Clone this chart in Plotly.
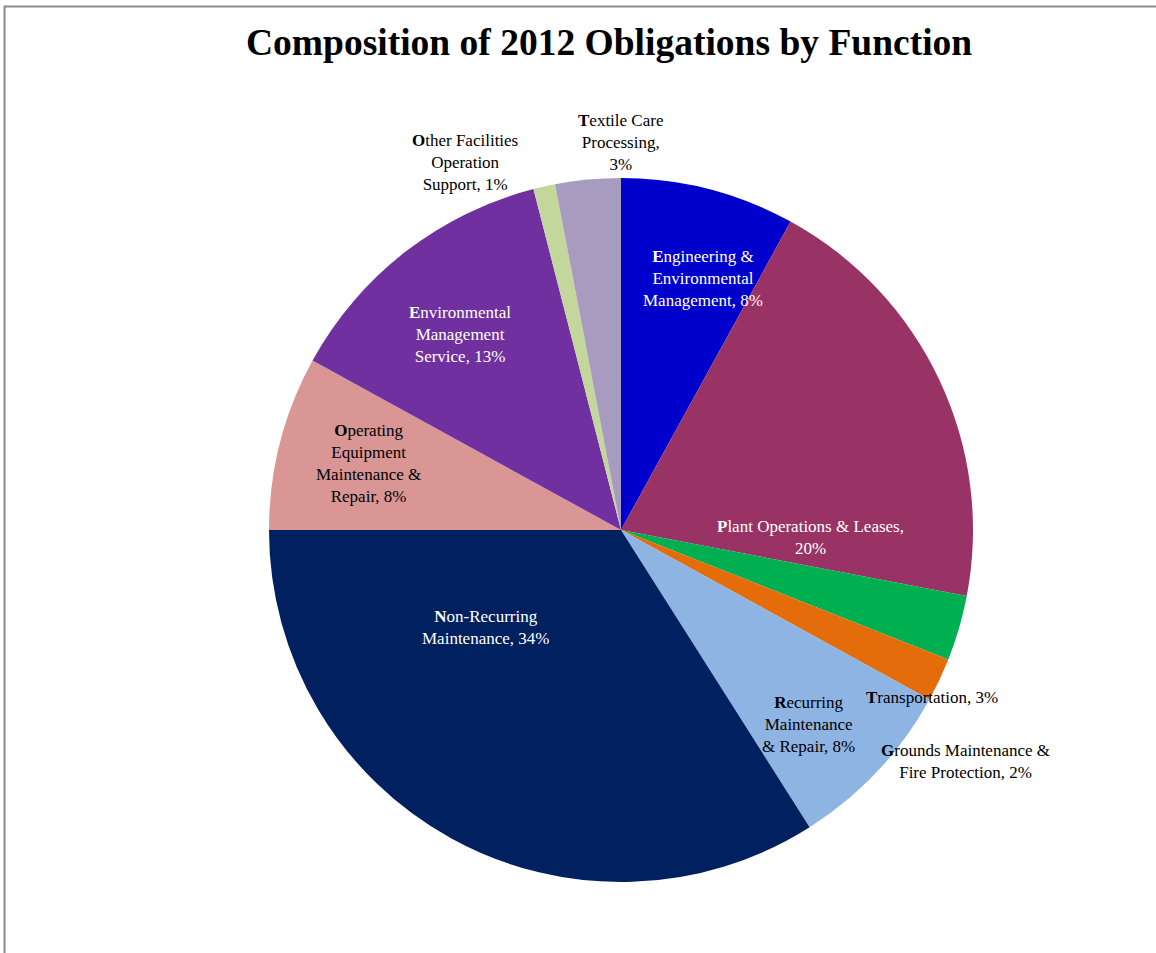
import plotly.graph_objects as go

# Obligations by function, share of total (%)
functions = [
    "Engineering & Environmental Management",
    "Plant Operations & Leases",
    "Transportation",
    "Grounds Maintenance & Fire Protection",
    "Recurring Maintenance & Repair",
    "Non-Recurring Maintenance",
    "Operating Equipment Maintenance & Repair",
    "Environmental Management Service",
    "Other Facilities Operation Support",
    "Textile Care Processing",
]
shares = [8, 20, 3, 2, 8, 34, 8, 13, 1, 3]

colors = ["#0000CC", "#993366", "#00B050", "#E46C0A", "#8EB4E3",
          "#002060", "#D99694", "#7030A0", "#C3D69B", "#A89BC0"]

W, H = 1156, 953
CX, CY, R = 621, 530, 352

# label line breaks and placement in pixels
label_lines = [
    ["Engineering &", "Environmental", "Management, {p}%"],
    ["Plant Operations & Leases,", "{p}%"],
    ["Transportation, {p}%"],
    ["Grounds Maintenance &", "Fire Protection, {p}%"],
    ["Recurring", "Maintenance", "& Repair, {p}%"],
    ["Non-Recurring", "Maintenance, {p}%"],
    ["Operating", "Equipment", "Maintenance &", "Repair, {p}%"],
    ["Environmental", "Management", "Service, {p}%"],
    ["Other Facilities", "Operation", "Support, {p}%"],
    ["Textile Care", "Processing,", "{p}%"],
]
label_xy = [(703, 278), (810, 537), (932, 697), (965, 761), (808, 724),
            (485, 627), (368, 463), (460, 334), (465, 163), (620, 143)]
label_colors = ["white", "white", "black", "black", "black",
                "white", "black", "white", "black", "black"]

fig = go.Figure(go.Pie(
    labels=functions,
    values=shares,
    sort=False,
    direction="clockwise",
    rotation=0,
    marker=dict(colors=colors, line=dict(width=0)),
    textinfo="none",
    hoverinfo="label+percent",
    domain=dict(x=[(CX - R) / W, (CX + R) / W],
                y=[1 - (CY + R) / H, 1 - (CY - R) / H]),
    showlegend=False,
))

font_family = "Palatino Linotype, Book Antiqua, Palatino, Liberation Serif, serif"

annotations = []
for lines, p, (x, y), c in zip(label_lines, shares, label_xy, label_colors):
    text = "<br>".join(lines).format(p=p)
    text = "<b>" + text[0] + "</b>" + text[1:]
    annotations.append(dict(
        text=text, x=x / W, y=1 - y / H, xref="paper", yref="paper",
        showarrow=False, align="center", xanchor="center", yanchor="middle",
        font=dict(family=font_family, size=17, color=c),
    ))

annotations.append(dict(
    text="<b>Composition of 2012 Obligations by Function</b>",
    x=609 / W, y=1 - 42 / H, xref="paper", yref="paper",
    showarrow=False, xanchor="center", yanchor="middle",
    font=dict(family=font_family, size=37.5, color="black"),
))

fig.update_layout(
    width=W, height=H,
    margin=dict(l=0, r=0, t=0, b=0),
    paper_bgcolor="white",
    annotations=annotations,
    shapes=[dict(type="rect", xref="paper", yref="paper",
                 x0=4.5 / W, x1=1.05, y0=-0.05, y1=1 - 6.5 / H,
                 line=dict(color="#8c8c8c", width=2), fillcolor="rgba(0,0,0,0)")],
)

fig.write_html("out.html")
